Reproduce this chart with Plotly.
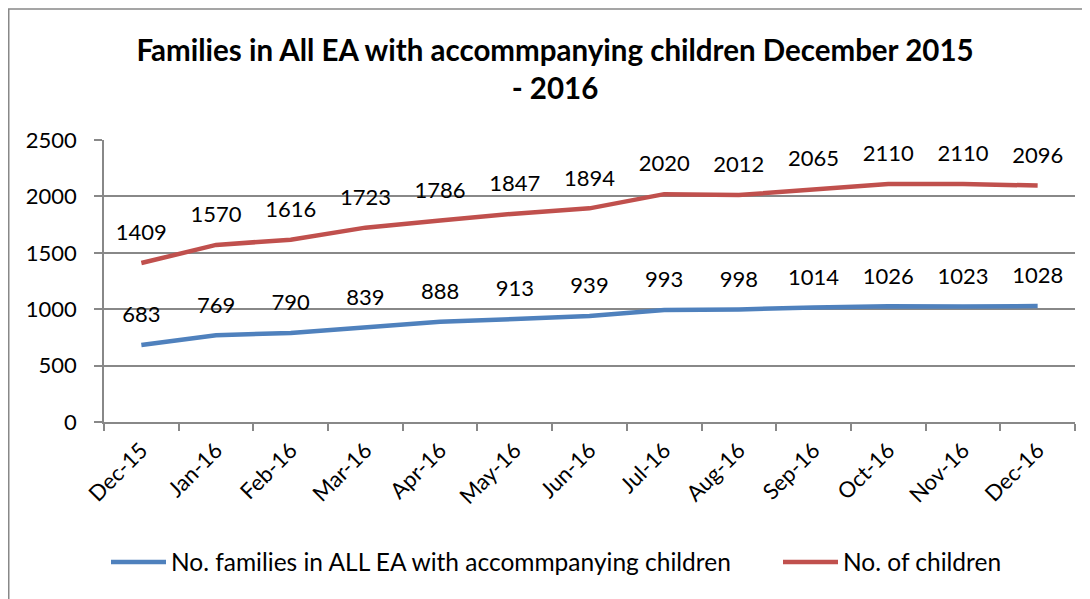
import plotly.graph_objects as go

months = ["Dec-15", "Jan-16", "Feb-16", "Mar-16", "Apr-16", "May-16", "Jun-16",
          "Jul-16", "Aug-16", "Sep-16", "Oct-16", "Nov-16", "Dec-16"]
families = [683, 769, 790, 839, 888, 913, 939, 993, 998, 1014, 1026, 1023, 1028]
children = [1409, 1570, 1616, 1723, 1786, 1847, 1894, 2020, 2012, 2065, 2110, 2110, 2096]

FONT = "Lato, Open Sans, sans-serif"
# page has an 8px body margin; figure is sized to fit the window
W, H = 1082, 591
L, R, T, B = 96, 15, 132, 177

fig = go.Figure()
fig.add_trace(go.Scatter(
    x=months, y=families, name="No. families in ALL EA with accommpanying children",
    legend="legend",
    mode="lines+markers+text", text=[str(v) for v in families], textposition="top center",
    textfont=dict(size=22, color="#000000", family=FONT),
    line=dict(color="#4F81BD", width=4.5),
    marker=dict(size=26, color="rgba(0,0,0,0)"),
    cliponaxis=False,
))
fig.add_trace(go.Scatter(
    x=months, y=children, name="No. of children",
    legend="legend2",
    mode="lines+markers+text", text=[str(v) for v in children], textposition="top center",
    textfont=dict(size=22, color="#000000", family=FONT),
    line=dict(color="#C0504D", width=4.5),
    marker=dict(size=26, color="rgba(0,0,0,0)"),
    cliponaxis=False,
))

pw = W - L - R
ph = H - T - B
fig.add_shape(type="rect", xref="paper", yref="paper",
              x0=(0.75 - L) / pw, x1=(W + 20 - L) / pw,
              y0=-(H + 20 - T - ph) / ph, y1=1 + (T - 1) / ph,
              line=dict(color="#888888", width=1.5), fillcolor="rgba(0,0,0,0)", layer="below")

legend_common = dict(orientation="h", xref="container", xanchor="left",
                     y=1 - 554 / H, yref="container", yanchor="middle",
                     font=dict(size=24.5, family=FONT, color="#000000"),
                     itemwidth=55, bgcolor="rgba(0,0,0,0)")

fig.update_layout(
    width=W, height=H,
    margin=dict(l=L, r=R, t=T, b=B),
    paper_bgcolor="white", plot_bgcolor="white",
    font=dict(family=FONT, size=22, color="#000000"),
    title=dict(text="<b>Families in All EA with accommpanying children December 2015<br>- 2016</b>",
               x=547 / W, xanchor="center", y=1 - 53 / H, yanchor="middle",
               font=dict(size=29.5, family=FONT, color="#000000")),
    showlegend=True,
    legend=dict(x=98 / W, **legend_common),
    legend2=dict(x=770 / W, **legend_common),
    xaxis=dict(type="category", range=[-0.5, 12.5], tickson="boundaries",
               ticks="outside", ticklen=7, tickcolor="#888888", tickwidth=1.5,
               showline=True, linecolor="#888888", linewidth=1.5,
               showgrid=False, tickangle=-45, ticklabelstandoff=5,
               tickfont=dict(size=22, family=FONT, color="#000000")),
    yaxis=dict(range=[0, 2500], dtick=500, tick0=0,
               ticks="outside", ticklen=8, tickcolor="#888888", tickwidth=1.5,
               showline=True, linecolor="#888888", linewidth=1.5,
               showgrid=True, gridcolor="#888888", gridwidth=1.5,
               zeroline=False, ticklabelstandoff=13,
               tickfont=dict(size=22, family=FONT, color="#000000")),
)

fig.write_html("out.html")
